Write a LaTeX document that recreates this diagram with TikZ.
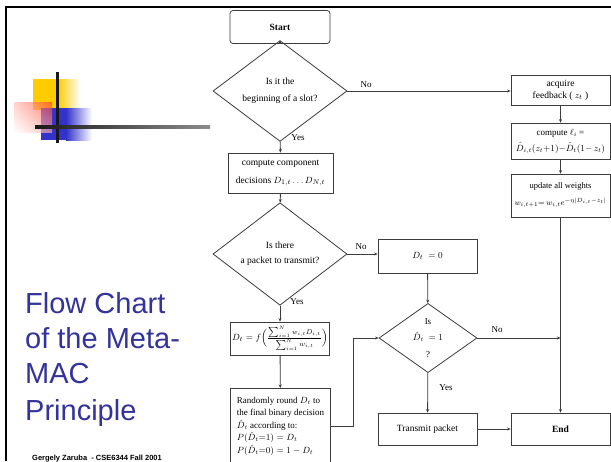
\documentclass[tikz,border=0pt]{standalone}
\usepackage{fontspec}
\setmainfont{Liberation Serif}
\newfontfamily\titlefont{Liberation Sans}
\usetikzlibrary{shapes.geometric,arrows.meta,shadings}
\definecolor{slideblue}{RGB}{51,51,153}
\definecolor{chartgray}{RGB}{60,60,60}
\definecolor{sqyellow}{RGB}{255,204,0}
\definecolor{sqblue}{RGB}{51,51,204}
\definecolor{sqred}{RGB}{255,60,40}

\begin{document}
\begin{tikzpicture}[x=1pt,y=-1pt]
		\tikzstyle{every node}+=[inner sep=0pt]
		\tikzstyle{box}=[draw=chartgray,line width=0.8pt,rectangle,align=center,font=\fontsize{9.5}{12}\selectfont]
		\tikzstyle{decision}=[draw=chartgray,line width=0.8pt,diamond,align=center,font=\fontsize{9.5}{15}\selectfont]
		\tikzstyle{flow}=[draw=chartgray,line width=0.8pt,-{Stealth[length=3.5pt,width=3pt]}]
		\tikzstyle{lbl}=[font=\fontsize{9}{10}\selectfont]
		\clip (0,0) rectangle (611,461);
		\fill [white] (0,0) rectangle (611,461);
		\draw [black,line width=2pt] (5,7) -- (611,7);
		\draw [black,line width=2pt] (6,7) -- (6,461);
		\fill [sqyellow] (33,79) rectangle (58,110);
		\shade [left color=sqyellow,right color=white] (58,79) rectangle (80,110);
		\fill [sqblue] (41,108) rectangle (66,140);
		\shade [left color=sqblue,right color=white] (66,108) rectangle (92,140);
		\shade [upper right=sqred,upper left=sqred!35,lower right=sqred!45,lower left=white,opacity=0.65] (14,102) rectangle (52,132);
		\fill [black!90] (55.8,72) rectangle (58.6,143);
		\shade [left color=black!90,right color=black!45] (35,125.8) rectangle (210,128.4);
		\node [anchor=base west,text=slideblue,font=\titlefont\fontsize{29}{35}\selectfont] (t1) at (25,313) {Flow Chart};
		\node [anchor=base west,text=slideblue,font=\titlefont\fontsize{29}{35}\selectfont] (t2) at (25,348) {of the Meta-};
		\node [anchor=base west,text=slideblue,font=\titlefont\fontsize{29}{35}\selectfont] (t3) at (25,383) {MAC};
		\node [anchor=base west,text=slideblue,font=\titlefont\fontsize{29}{35}\selectfont] (t4) at (25,420) {Principle};
		\node [anchor=base west,font=\titlefont\bfseries\fontsize{7.5}{9}\selectfont] (foot) at (32,460) {Gergely Zaruba \ - CSE6344 Fall 2001};
		\node [box,rounded corners=3pt,minimum width=100pt,minimum height=33pt,font=\bfseries\fontsize{9.5}{12}\selectfont] (start) at (280,27) {Start};
		\node [decision,minimum width=134pt,minimum height=63pt,font=\fontsize{9.5}{17}\selectfont] (slot) at (280,91) {Is it the\\beginning of a slot?};
		\node [box,minimum width=105pt,minimum height=40pt,font=\fontsize{9.5}{18}\selectfont] (comp) at (280.5,173) {compute component\\decisions $D_{1,t}\ldots D_{N,t}$};
		\node [decision,minimum width=134pt,minimum height=72pt] (pkt) at (280,254) {Is there\\a packet to transmit?};
		\node [box,minimum width=99pt,minimum height=33pt] (avg) at (280,338.5) {$D_t=f\Bigl(\frac{\sum_{i=1}^{N}w_{i,t}D_{i,t}}{\sum_{i=1}^{N}w_{i,t}}\Bigr)$};
		\node [box,anchor=north,minimum width=100pt,minimum height=76pt,align=left,font=\fontsize{9}{12.5}\selectfont] (rnd) at (280.5,388) {Randomly round $D_t$ to\\the final binary decision\\$\hat D_t$ according to:\\$P(\hat D_t{=}1)=D_t$\\$P(\hat D_t{=}0)=1-D_t$};
		\node [box,minimum width=99pt,minimum height=34pt] (zero) at (427.5,256) {$D_t\ =0$};
		\node [decision,minimum width=98pt,minimum height=63pt,font=\fontsize{9}{16.5}\selectfont] (sent) at (428,338) {Is\\$\hat D_t\ =1$\\?};
		\node [box,minimum width=99pt,minimum height=32pt] (tx) at (427.5,429) {Transmit packet};
		\node [box,minimum width=99pt,minimum height=32pt,font=\bfseries\fontsize{9.5}{12}\selectfont] (fin) at (560.5,429) {End};
		\node [box,minimum width=99pt,minimum height=30pt] (acq) at (560.5,90) {acquire\\feedback ( $z_t$ )};
		\node [box,minimum width=99pt,minimum height=36pt,font=\fontsize{9}{16}\selectfont] (loss) at (560.5,141) {compute $\ell_i$ =\\$\hat D_{i,t}(z_t{+}1){-}\hat D_t(1{-}\,z_t)$};
		\node [box,minimum width=99pt,minimum height=43pt,font=\fontsize{8.5}{17}\selectfont] (upd) at (560.5,195.5) {update all weights\\$w_{i,t+1}{=}\,w_{i,t}e^{-\eta|D_{i,t}-z_t|}$};
		\draw [flow] (start) -- (slot);
		\draw [flow] (slot.east) -- (slot.east -| acq.west);
		\node [lbl] (no1) at (366,85) {No};
		\draw [flow] (slot) -- (comp);
		\node [lbl] (yes1) at (298,138) {Yes};
		\draw [flow] (comp) -- (pkt);
		\draw [flow] (pkt.east) -- (pkt.east -| zero.west);
		\node [lbl] (no2) at (361,247) {No};
		\draw [flow] (pkt) -- (avg);
		\node [lbl] (yes2) at (297,302) {Yes};
		\draw [flow] (avg) -- (rnd);
		\draw [flow] (rnd.east) -- ++(22,0) |- (sent.west);
		\draw [flow] (zero) -- (sent);
		\draw [flow] (sent) -- (tx);
		\node [lbl] (yes3) at (446,388) {Yes};
		\draw [flow] (tx) -- (fin);
		\draw [flow] (acq) -- (loss);
		\draw [flow] (loss) -- (upd);
		\draw [flow] (upd) -- (fin);
		\draw [flow] (sent.east) -- (sent.east -| upd.south);
		\node [lbl] (no3) at (497,330) {No};
	\end{tikzpicture}
\end{document}
